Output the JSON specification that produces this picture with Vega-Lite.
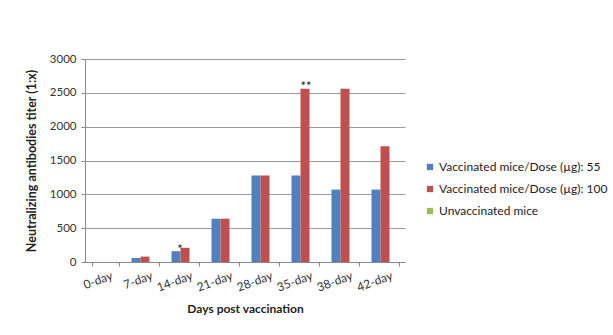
{
  "$schema": "https://vega.github.io/schema/vega-lite/v6.json",
  "width": 320,
  "height": 203,
  "autosize": {"type": "none"},
  "padding": {"left": 85, "top": 59, "right": 208, "bottom": 73},
  "background": "white",
  "config": {
    "font": "Lato",
    "view": {"stroke": null},
    "axis": {"labelFont": "Lato", "titleFont": "Lato", "labelColor": "#333", "titleColor": "#222"},
    "legend": {"labelFont": "Lato"}
  },
  "datasets": {
    "titers": [
      {"day": "0-day", "group": "Vaccinated mice/Dose (µg): 55", "titer": 0},
      {"day": "0-day", "group": "Vaccinated mice/Dose (µg): 100", "titer": 0},
      {"day": "0-day", "group": "Unvaccinated mice", "titer": 0},
      {"day": "7-day", "group": "Vaccinated mice/Dose (µg): 55", "titer": 60},
      {"day": "7-day", "group": "Vaccinated mice/Dose (µg): 100", "titer": 80},
      {"day": "7-day", "group": "Unvaccinated mice", "titer": 0},
      {"day": "14-day", "group": "Vaccinated mice/Dose (µg): 55", "titer": 160},
      {"day": "14-day", "group": "Vaccinated mice/Dose (µg): 100", "titer": 210},
      {"day": "14-day", "group": "Unvaccinated mice", "titer": 0},
      {"day": "21-day", "group": "Vaccinated mice/Dose (µg): 55", "titer": 640},
      {"day": "21-day", "group": "Vaccinated mice/Dose (µg): 100", "titer": 640},
      {"day": "21-day", "group": "Unvaccinated mice", "titer": 0},
      {"day": "28-day", "group": "Vaccinated mice/Dose (µg): 55", "titer": 1280},
      {"day": "28-day", "group": "Vaccinated mice/Dose (µg): 100", "titer": 1280},
      {"day": "28-day", "group": "Unvaccinated mice", "titer": 0},
      {"day": "35-day", "group": "Vaccinated mice/Dose (µg): 55", "titer": 1280},
      {"day": "35-day", "group": "Vaccinated mice/Dose (µg): 100", "titer": 2560},
      {"day": "35-day", "group": "Unvaccinated mice", "titer": 0},
      {"day": "38-day", "group": "Vaccinated mice/Dose (µg): 55", "titer": 1070},
      {"day": "38-day", "group": "Vaccinated mice/Dose (µg): 100", "titer": 2560},
      {"day": "38-day", "group": "Unvaccinated mice", "titer": 0},
      {"day": "42-day", "group": "Vaccinated mice/Dose (µg): 55", "titer": 1070},
      {"day": "42-day", "group": "Vaccinated mice/Dose (µg): 100", "titer": 1710},
      {"day": "42-day", "group": "Unvaccinated mice", "titer": 0}
    ],
    "marks": [
      {"day": "14-day", "group": "Vaccinated mice/Dose (µg): 55", "titer": 160, "label": "*"},
      {"day": "35-day", "group": "Vaccinated mice/Dose (µg): 100", "titer": 2560, "label": "**"}
    ]
  },
  "encoding": {
    "x": {
      "field": "day",
      "type": "nominal",
      "sort": ["0-day", "7-day", "14-day", "21-day", "28-day", "35-day", "38-day", "42-day"],
      "scale": {"paddingInner": 0.325, "paddingOuter": 0.1625},
      "axis": {
        "title": "Days post vaccination",
        "titleFontSize": 12,
        "titleFontWeight": "bold",
        "titlePadding": 10,
        "labelAngle": -20,
        "labelAlign": "right",
        "labelBaseline": "top",
        "labelFontSize": 12,
        "labelPadding": 4,
        "labelOffset": 5,
        "tickBand": "extent",
        "tickSize": 4,
        "tickColor": "#888",
        "domainColor": "#888",
        "grid": false
      }
    },
    "xOffset": {
      "field": "group",
      "type": "nominal",
      "sort": ["Vaccinated mice/Dose (µg): 55", "Vaccinated mice/Dose (µg): 100", "Unvaccinated mice"],
      "scale": {"paddingInner": 0, "paddingOuter": 0}
    },
    "y": {
      "field": "titer",
      "type": "quantitative",
      "scale": {"domain": [0, 3000]},
      "axis": {
        "title": "Neutralizing antibodies titer (1:x)",
        "titleFontSize": 12.5,
        "titleFontWeight": "bold",
        "titlePadding": 11,
        "values": [0, 500, 1000, 1500, 2000, 2500, 3000],
        "labelFontSize": 11.5,
        "labelPadding": 5,
        "tickSize": 4,
        "tickColor": "#888",
        "domainColor": "#888",
        "gridColor": "#999",
        "format": "d"
      }
    }
  },
  "layer": [
    {
      "data": {"name": "titers"},
      "mark": {"type": "bar"},
      "encoding": {
        "color": {
          "field": "group",
          "type": "nominal",
          "scale": {
            "domain": ["Vaccinated mice/Dose (µg): 55", "Vaccinated mice/Dose (µg): 100", "Unvaccinated mice"],
            "range": ["#4F81BD", "#C0504D", "#9BBB59"]
          },
          "legend": {
            "title": null,
            "orient": "none",
            "legendX": 339,
            "legendY": 102,
            "symbolType": "square",
            "symbolSize": 40,
            "symbolStrokeWidth": 0,
            "labelFontSize": 12,
            "labelColor": "#222",
            "labelLimit": 400,
            "rowPadding": 10,
            "labelOffset": 3
          }
        }
      }
    },
    {
      "data": {"name": "marks"},
      "transform": [{"filter": "datum.label === '*'"}],
      "mark": {"type": "text", "baseline": "alphabetic", "dy": 3, "dx": 4, "fontSize": 13, "color": "#222"},
      "encoding": {"text": {"field": "label"}}
    },
    {
      "data": {"name": "marks"},
      "transform": [{"filter": "datum.label === '**'"}],
      "mark": {"type": "text", "baseline": "alphabetic", "dy": 2, "dx": 1, "fontSize": 13, "color": "#222"},
      "encoding": {"text": {"field": "label"}}
    }
  ]
}
